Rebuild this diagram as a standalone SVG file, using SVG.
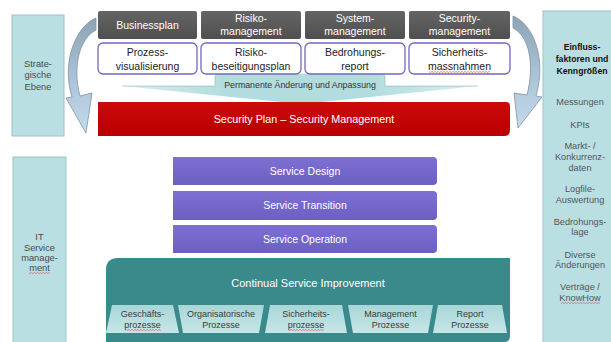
<svg xmlns="http://www.w3.org/2000/svg" width="611" height="342" viewBox="0 0 611 342">
  <style>
    text { font-family: "Liberation Sans", Arial, sans-serif; text-anchor: middle; }
    .side { fill: #b9dfe3; stroke: #9cc4c9; stroke-width: 1; }
    .sideTxt { font-size: 9.3px; fill: #4a4a4a; }
    .infoTxt { font-size: 9.2px; fill: #555; }
    .headTxt { font-size: 8.7px; font-weight: bold; fill: #111; }
    .gray { fill: url(#grayGrad); }
    .grayTxt { font-size: 10.5px; fill: #fff; }
    .white { fill: #fff; stroke: #7466c0; stroke-width: 1.3; }
    .whiteTxt { font-size: 10.5px; fill: #222; }
    .svc { fill: url(#svcGrad); }
    .svcTxt { font-size: 10.5px; fill: #fff; }
    .proc { fill: url(#procGrad); }
    .procTxt { font-size: 9px; fill: #3a3a3a; }
    .curve { fill: url(#curveGrad); stroke: #7f93a6; stroke-width: 0.8; }
    .spell { fill: url(#wavy); }
  </style>
  <defs>
    <linearGradient id="grayGrad" x1="0" y1="0" x2="0" y2="1">
      <stop offset="0" stop-color="#646464"/>
      <stop offset="1" stop-color="#4f4f4f"/>
    </linearGradient>
    <linearGradient id="svcGrad" x1="0" y1="0" x2="0" y2="1">
      <stop offset="0" stop-color="#7d70d2"/>
      <stop offset="1" stop-color="#6c5fc2"/>
    </linearGradient>
    <linearGradient id="redGrad" x1="0" y1="0" x2="0" y2="1">
      <stop offset="0" stop-color="#cc0a0a"/>
      <stop offset="1" stop-color="#b80000"/>
    </linearGradient>
    <linearGradient id="procGrad" x1="0" y1="0" x2="0" y2="1">
      <stop offset="0" stop-color="#a9d6d8"/>
      <stop offset="1" stop-color="#c6e6e7"/>
    </linearGradient>
    <linearGradient id="bannerGrad" x1="0" y1="0" x2="1" y2="0">
      <stop offset="0" stop-color="#d9eef0"/>
      <stop offset="0.3" stop-color="#b3dcdf"/>
      <stop offset="0.7" stop-color="#b3dcdf"/>
      <stop offset="1" stop-color="#d9eef0"/>
    </linearGradient>
    <linearGradient id="curveGrad" x1="0" y1="0" x2="0" y2="1">
      <stop offset="0" stop-color="#8ea3b6"/>
      <stop offset="0.5" stop-color="#a9c1d4"/>
      <stop offset="1" stop-color="#c3dbec"/>
    </linearGradient>
    <!-- wavy spell-check underline -->
    <pattern id="wavy" width="3" height="2" patternUnits="userSpaceOnUse">
      <path d="M0,1.6 L1.5,0.4 L3,1.6" fill="none" stroke="#d45a5a" stroke-width="0.7"/>
    </pattern>
  </defs>

  <rect width="611" height="342" fill="#fff"/>

  <!-- side panels -->
  <g id="strategische-ebene">
    <rect class="side" x="12" y="15" width="52" height="121"/>
    <text class="sideTxt" x="38" y="67">Strate-</text>
    <text class="sideTxt" x="38" y="78">gische</text>
    <text class="sideTxt" x="38" y="90">Ebene</text>
  </g>
  <g id="it-service-management">
    <rect class="side" x="13" y="157" width="53" height="190"/>
    <text class="sideTxt" x="39.5" y="240">IT</text>
    <text class="sideTxt" x="39.5" y="251">Service</text>
    <text class="sideTxt" x="39.5" y="261">manage-</text>
    <text class="sideTxt" x="39.5" y="271">ment</text>
    <rect class="spell" x="29" y="272" width="21" height="2"/>
  </g>
  <g id="einflussfaktoren">
    <rect class="side" x="543" y="11" width="72" height="336"/>
    <text class="headTxt" x="582" y="50">Einfluss-</text>
    <text class="headTxt" x="582" y="62">faktoren und</text>
    <text class="headTxt" x="582" y="74">Kenngrößen</text>
    <text class="infoTxt" x="580" y="105">Messungen</text>
    <text class="infoTxt" x="580" y="128">KPIs</text>
    <text class="infoTxt" x="580" y="149">Markt- /</text>
    <text class="infoTxt" x="580" y="160">Konkurrenz-</text>
    <text class="infoTxt" x="580" y="171">daten</text>
    <text class="infoTxt" x="580" y="192">Logfile-</text>
    <text class="infoTxt" x="580" y="203">Auswertung</text>
    <text class="infoTxt" x="580" y="225">Bedrohungs-</text>
    <text class="infoTxt" x="580" y="235">lage</text>
    <text class="infoTxt" x="580" y="258">Diverse</text>
    <text class="infoTxt" x="580" y="268">Änderungen</text>
    <text class="infoTxt" x="580" y="290">Verträge /</text>
    <text class="infoTxt" x="580" y="301">KnowHow</text>
    <rect class="spell" x="561" y="302" width="39" height="2"/>
  </g>

  <!-- curved cycle arrows -->
  <g id="connectors">
    <path class="curve" d="M96,18 C76,26 61,62 72,97 L66,98 L86,133 L92,93 L80,96 C72,66 80,38 96,30 Z"/>
    <path class="curve" d="M513,16 C533,24 547,58 536,96 L542,97 L518,128 L514,93 L527,95 C535,64 529,36 513,28 Z"/>
  </g>

  <!-- banner between planning row and security plan -->
  <g id="permanente-aenderung">
    <path fill="url(#bannerGrad)" d="M215,74 L385,74 L385,86 L478,86 L302,104 L122,86 L215,86 Z"/>
    <path fill="none" stroke="#8fb8bc" stroke-width="0.6" d="M215,76 L215,86 L122,86 M385,76 L385,86 L478,86"/>
    <text x="300" y="88" style="font-size:8.8px; fill:#333">Permanente Änderung und Anpassung</text>
  </g>

  <!-- top row: management areas -->
  <g id="businessplan">
    <rect class="gray" x="98" y="11" width="99" height="28" rx="2"/>
    <text class="grayTxt" x="147.5" y="29">Businessplan</text>
  </g>
  <g id="risikomanagement">
    <rect class="gray" x="201" y="11" width="100" height="28" rx="2"/>
    <text class="grayTxt" x="251" y="22">Risiko-</text>
    <text class="grayTxt" x="251" y="35">management</text>
  </g>
  <g id="systemmanagement">
    <rect class="gray" x="305" y="11" width="100" height="28" rx="2"/>
    <text class="grayTxt" x="355" y="22">System-</text>
    <text class="grayTxt" x="355" y="35">management</text>
  </g>
  <g id="securitymanagement">
    <rect class="gray" x="409" y="11" width="101" height="28" rx="2"/>
    <text class="grayTxt" x="459.5" y="22">Security-</text>
    <text class="grayTxt" x="459.5" y="35">management</text>
  </g>

  <!-- second row: deliverables -->
  <g id="prozessvisualisierung">
    <rect class="white" x="98" y="43" width="99" height="31" rx="5"/>
    <text class="whiteTxt" x="147.5" y="56">Prozess-</text>
    <text class="whiteTxt" x="147.5" y="70">visualisierung</text>
  </g>
  <g id="risikobeseitigungsplan">
    <rect class="white" x="201" y="43" width="100" height="31" rx="5"/>
    <text class="whiteTxt" x="251" y="56">Risiko-</text>
    <text class="whiteTxt" x="251" y="70">beseitigungsplan</text>
  </g>
  <g id="bedrohungsreport">
    <rect class="white" x="305" y="43" width="100" height="31" rx="5"/>
    <text class="whiteTxt" x="355" y="56">Bedrohungs-</text>
    <text class="whiteTxt" x="355" y="70">report</text>
  </g>
  <g id="sicherheitsmassnahmen">
    <rect class="white" x="409" y="43" width="101" height="31" rx="5"/>
    <text class="whiteTxt" x="459.5" y="56">Sicherheits-</text>
    <text class="whiteTxt" x="459.5" y="70">massnahmen</text>
    <rect class="spell" x="429" y="71" width="61" height="2"/>
  </g>

  <!-- security plan bar -->
  <g id="security-plan">
    <path fill="url(#redGrad)" d="M98,102 L506,102 Q510,102 510,106 L510,130 Q510,136 504,136 L98,136 Z"/>
    <text x="304" y="123" style="font-size:10.8px; fill:#fff">Security Plan – Security Management</text>
  </g>

  <!-- service lifecycle stages -->
  <g id="service-design">
    <path class="svc" d="M173,157 L433,157 Q437,157 437,161 L437,181 Q437,185 433,185 L173,185 Z"/>
    <text class="svcTxt" x="305" y="175">Service Design</text>
  </g>
  <g id="service-transition">
    <path class="svc" d="M173,191 L433,191 Q437,191 437,195 L437,216 Q437,220 433,220 L173,220 Z"/>
    <text class="svcTxt" x="305" y="209">Service Transition</text>
  </g>
  <g id="service-operation">
    <path class="svc" d="M173,225 L433,225 Q437,225 437,229 L437,249 Q437,253 433,253 L173,253 Z"/>
    <text class="svcTxt" x="305" y="243">Service Operation</text>
  </g>

  <!-- continual service improvement -->
  <g id="continual-service-improvement">
    <path fill="#3a8a8c" d="M118,258 L510,258 L510,336 Q510,342 504,342 L106,342 L106,270 Q106,258 118,258 Z"/>
    <text x="308" y="287" style="font-size:11px; fill:#fff">Continual Service Improvement</text>
  </g>
  <g id="geschaeftsprozesse">
    <path class="proc" d="M112,305 L173,305 L179,333 L106,333 Z"/>
    <text class="procTxt" x="142.5" y="317">Geschäfts-</text>
    <text class="procTxt" x="142.5" y="328">prozesse</text>
    <rect class="spell" x="125" y="329" width="36" height="2"/>
  </g>
  <g id="organisatorische-prozesse">
    <path class="proc" d="M178,305 L264,305 L259,333 L183,333 Z"/>
    <text class="procTxt" x="221" y="317">Organisatorische</text>
    <text class="procTxt" x="221" y="328">Prozesse</text>
  </g>
  <g id="sicherheitsprozesse">
    <path class="proc" d="M270,305 L342,305 L347,333 L265,333 Z"/>
    <text class="procTxt" x="306" y="317">Sicherheits-</text>
    <text class="procTxt" x="306" y="328">prozesse</text>
    <rect class="spell" x="288" y="329" width="36" height="2"/>
  </g>
  <g id="management-prozesse">
    <path class="proc" d="M348,305 L433,305 L428,333 L353,333 Z"/>
    <text class="procTxt" x="390.5" y="317">Management</text>
    <text class="procTxt" x="390.5" y="328">Prozesse</text>
  </g>
  <g id="report-prozesse">
    <path class="proc" d="M438,305 L502,305 L507,333 L433,333 Z"/>
    <text class="procTxt" x="470" y="317">Report</text>
    <text class="procTxt" x="470" y="328">Prozesse</text>
  </g>
</svg>
